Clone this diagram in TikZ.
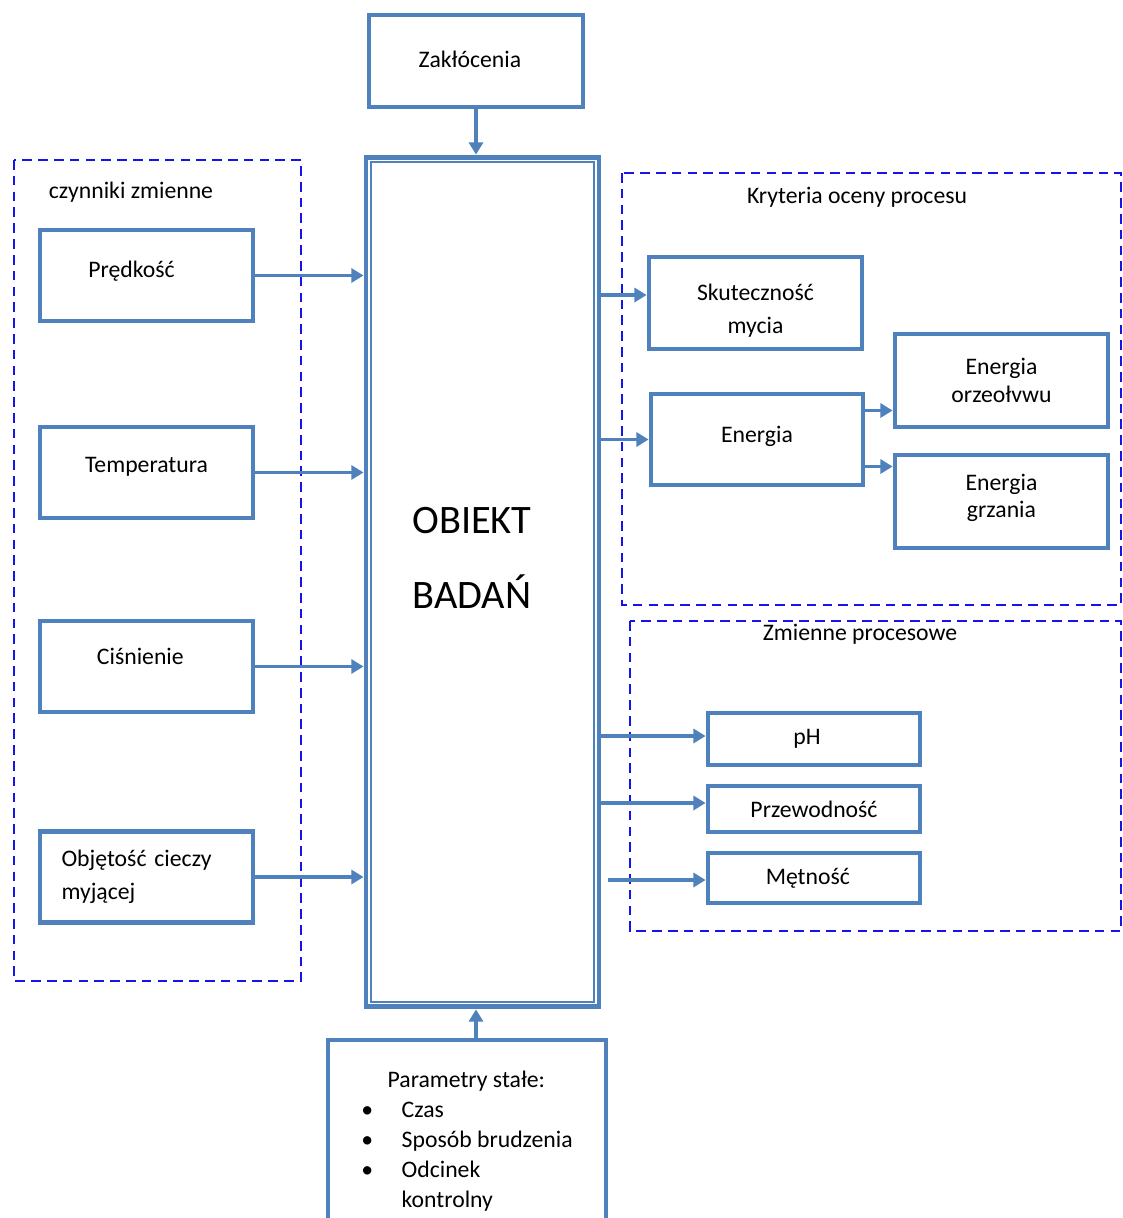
\documentclass[tikz,border=0pt]{standalone}
\usepackage{fontspec}
\setmainfont{Carlito}
\usetikzlibrary{arrows.meta,calc}
\definecolor{boxblue}{RGB}{79,129,189}
\definecolor{grpblue}{RGB}{20,20,235}
\newcommand{\podnies}[2]{\raisebox{#1}[\height][\depth]{#2}}
\tikzset{
  blok/.style={draw=boxblue, line width=2.7pt, fill=white, inner sep=2pt,
    font=\fontsize{13.5}{19}\selectfont, align=center},
  grupa/.style={draw=grpblue, line width=0.9pt, dash pattern=on 5.5pt off 3.5pt},
  opis/.style={font=\fontsize{13.5}{15}\selectfont},
  strz/.style={draw=boxblue, line width=2.1pt, -{Triangle[length=7pt,width=8pt]}}
}
\begin{document}
\begin{tikzpicture}[x=0.02cm,y=-0.02cm]
\useasboundingbox (0,0) rectangle (1123,1218);
% grupy
\draw[grupa] (14,160) rectangle (301,981);
\draw[grupa] (622,173) rectangle (1121,605);
\draw[grupa] (630,621) rectangle (1121,931);
\node[opis] (czyn) at (131,192) {czynniki zmienne};
\node[opis] (kryt) at (857,197) {Kryteria oceny procesu};
\node[opis] (zmpr) at (860,634) {Zmienne procesowe};
% obiekt
\node[draw=boxblue, line width=2.8pt, minimum width=4.66cm, minimum height=17cm] (obiekt) at (482.5,582) {};
\draw[boxblue, line width=1.2pt] ([shift={(7,7)}]obiekt.north west) rectangle ([shift={(-7,-7)}]obiekt.south east);
\node[font=\fontsize{23}{43}\selectfont, align=center] (obtxt) at (472,558) {OBIEKT\\BADAŃ};
% gora i dol
\node[blok, minimum width=4.28cm, minimum height=1.84cm] (zak) at (476,61) {\hspace*{-7pt}\podnies{1pt}{Zakłócenia}};
\node[blok, minimum width=5.56cm, minimum height=4.04cm, align=left, font=\fontsize{13.5}{17}\selectfont] (param) at (467,1141)
  {\hspace*{15pt}Parametry stałe:\\
   \makebox[23pt][l]{\textbullet}Czas\\
   \makebox[23pt][l]{\textbullet}Sposób brudzenia\\
   \makebox[23pt][l]{\textbullet}Odcinek\\
   \makebox[23pt][l]{}kontrolny};
% czynniki zmienne
\node[blok, minimum width=4.26cm, minimum height=1.82cm] (pred) at (146.5,275.5) {\hspace*{-17pt}\podnies{2.3pt}{Prędkość}};
\node[blok, minimum width=4.26cm, minimum height=1.82cm] (temp) at (146.5,472.5) {\podnies{3.4pt}{Temperatura}};
\node[blok, minimum width=4.26cm, minimum height=1.82cm] (cisn) at (146.5,666.5) {\hspace*{-7pt}\podnies{6pt}{Ciśnienie}};
\node[blok, minimum width=4.26cm, minimum height=1.82cm, align=left, text width=3.4cm] (obj) at (146.5,877) {Objętość cieczy\\myjącej};
% kryteria
\node[blok, minimum width=4.26cm, minimum height=1.84cm] (skut) at (755.5,303) {\podnies{-4pt}{\begin{tabular}{@{}c@{}}Skuteczność\\mycia\end{tabular}}};
\node[blok, minimum width=4.24cm, minimum height=1.82cm] (ener) at (757,439.5) {\podnies{1.7pt}{Energia}};
\node[blok, minimum width=4.26cm, minimum height=1.86cm, font=\fontsize{13.5}{15.5}\selectfont] (eprz) at (1001.5,380.5) {Energia\\orzeołvwu};
\node[blok, minimum width=4.26cm, minimum height=1.86cm, font=\fontsize{13.5}{15.5}\selectfont] (egrz) at (1001.5,501.5) {\podnies{1.7pt}{\begin{tabular}{@{}c@{}}Energia\\grzania\end{tabular}}};
% zmienne procesowe
\node[blok, minimum width=4.24cm, minimum height=1.04cm] (ph) at (814,739) {\hspace*{-8pt}pH};
\node[blok, minimum width=4.24cm, minimum height=0.92cm] (przew) at (814,809) {Przewodność};
\node[blok, minimum width=4.24cm, minimum height=1.0cm] (metn) at (814,878) {\hspace*{-7pt}Mętność};
% polaczenia
\draw[strz] (zak.south) -- (zak.south |- obiekt.north);
\draw[strz] ($(param.north)+(9,0)$) -- ($(param.north |- obiekt.south)+(9,0)$);
\foreach \n in {pred,temp,cisn,obj}
  \draw[strz] (\n.east) -- (\n.east -| obiekt.west);
\draw[strz] ($(obiekt.east |- skut.west)+(0,-8)$) -- ($(skut.west)+(0,-8)$);
\draw[strz] (obiekt.east |- ener.west) -- (ener.west);
\coordinate (e1) at ($(ener.east)+(0,-29)$);
\coordinate (e2) at ($(ener.east)+(0,27)$);
\draw[strz] (e1) -- (e1 -| eprz.west);
\draw[strz] (e2) -- (e2 -| egrz.west);
\draw[strz] ($(obiekt.east |- ph.west)+(0,-3)$) -- ($(ph.west)+(0,-3)$);
\draw[strz] ($(obiekt.east |- przew.west)+(0,-6)$) -- ($(przew.west)+(0,-6)$);
\draw[strz] ($(obiekt.east |- metn.west)+(7,2)$) -- ($(metn.west)+(0,2)$);
\end{tikzpicture}
\end{document}
